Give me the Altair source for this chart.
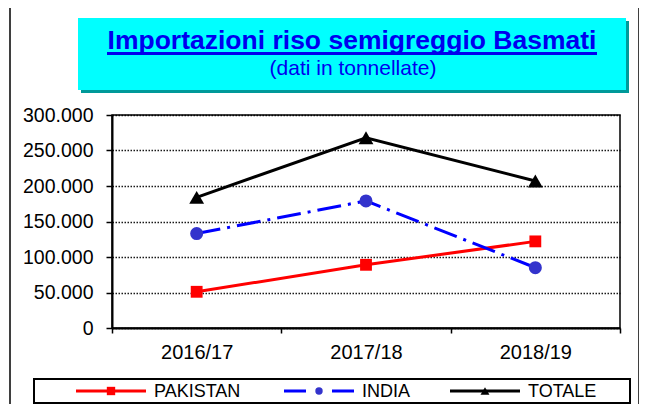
import altair as alt
import pandas as pd

# ---- data ----
years = ["2016/17", "2017/18", "2018/19"]
series_names = ["PAKISTAN", "INDIA", "TOTALE"]
pakistan = [51000, 89000, 122000]
india = [133000, 179000, 85000]
totale = [184000, 268000, 207000]
y_ticks = [0, 50000, 100000, 150000, 200000, 250000, 300000]
title_text = "Importazioni riso semigreggio Basmati"
subtitle_text = "(dati in tonnellate)"

rows = []
for name, vals in zip(series_names, [pakistan, india, totale]):
    for yr, v in zip(years, vals):
        rows.append({"anno": yr, "serie": name, "valore": v})
df = pd.DataFrame(rows)

FONT = "Liberation Sans"
W, H = 508, 213

styles = {
    "PAKISTAN": dict(color="#FF0000", mcolor="#FF0000", dash=None, shape="square", size=140, lsize=70, ldash=None),
    "INDIA": dict(color="#0000FF", mcolor="#3333CC", dash=[24, 7, 3, 7], shape="circle", size=170, lsize=55, ldash=[22, 26]),
    "TOTALE": dict(color="#000000", mcolor="#000000", dash=None, shape="triangle-up", size=220, lsize=80, ldash=None),
}

one = pd.DataFrame({"k": [0]})


def deco_rect(x, x2, y, y2, **kw):
    return alt.Chart(one).mark_rect(**kw).encode(
        x=alt.value(x), x2=alt.value(x2), y=alt.value(y), y2=alt.value(y2))


def deco_rule(x, x2, y, **kw):
    return alt.Chart(one).mark_rule(**kw).encode(
        x=alt.value(x), x2=alt.value(x2), y=alt.value(y))


def deco_text(x, y, txt, **kw):
    return alt.Chart(one).mark_text(text=txt, **kw).encode(x=alt.value(x), y=alt.value(y))


def deco_point(x, y, **kw):
    return alt.Chart(one).mark_point(**kw).encode(x=alt.value(x), y=alt.value(y))


# ---- axes / scales ----
x_enc = alt.X("anno:N", sort=years,
              scale=alt.Scale(type="band", paddingInner=0, paddingOuter=0),
              axis=alt.Axis(title=None, labelAngle=0, tickBand="extent", grid=False,
                            labelFont=FONT, labelFontSize=20, labelColor="black",
                            labelPadding=9, tickSize=5, tickColor="black", tickWidth=1.5,
                            domainColor="black", domainWidth=2))
y_enc = alt.Y("valore:Q",
              scale=alt.Scale(domain=[0, 300000], nice=False),
              axis=alt.Axis(title=None, values=y_ticks,
                            labelExpr="replace(format(datum.value, ','), ',', '.')",
                            labelFont=FONT, labelFontSize=19.5, labelColor="black",
                            labelPadding=13, tickSize=6, tickColor="black", tickWidth=1.5,
                            domainColor="black", domainWidth=2,
                            grid=True, gridColor="black", gridDash=[1.5, 1.5], gridWidth=1.5,
                            gridOpacity=0.9))

layers = []

# outer frame
layers.append(deco_rect(-102, 527, -109, 320, fill=None, filled=False, stroke="black", strokeWidth=1.5))
# title box with shadow
layers.append(deco_rect(-31, 517, -94, -22, color="#009999"))
layers.append(deco_rect(-34, 514, -97, -25, color="#00FFFF"))
layers.append(deco_text(240, -66, title_text, font=FONT, fontSize=26.5, fontWeight="bold",
                        color="#0000EE", align="center", baseline="alphabetic"))
layers.append(deco_rule(-5, 485, -61.5, color="#0000EE", strokeWidth=3))
layers.append(deco_text(241, -40, subtitle_text, font=FONT, fontSize=21,
                        color="#0000EE", align="center", baseline="alphabetic"))

# legend box
layers.append(deco_rect(-78, 518, 264, 288, fill="white", stroke="black", strokeWidth=2))
leg_start = [-36, 172, 338]
for i, name in enumerate(series_names):
    st = styles[name]
    x0 = leg_start[i]
    rkw = dict(color=st["color"], strokeWidth=3)
    if st["ldash"]:
        rkw["strokeDash"] = st["ldash"]
    layers.append(deco_rule(x0, x0 + 70, 276, **rkw))
    layers.append(deco_point(x0 + 35, 276, shape=st["shape"], filled=True, size=st["lsize"],
                             color=st["mcolor"], opacity=1))
    layers.append(deco_text(x0 + 78, 277, name, font=FONT, fontSize=18, color="black",
                            align="left", baseline="middle"))

# data series
base = alt.Chart(df)
for name in series_names:
    st = styles[name]
    lkw = dict(color=st["color"], strokeWidth=3)
    if st["dash"]:
        lkw["strokeDash"] = st["dash"]
    layers.append(base.transform_filter(alt.datum.serie == name)
                  .mark_line(**lkw).encode(x=x_enc, y=y_enc))
for name in series_names:
    st = styles[name]
    layers.append(base.transform_filter(alt.datum.serie == name)
                  .mark_point(shape=st["shape"], filled=True, size=st["size"],
                              color=st["mcolor"], opacity=1)
                  .encode(x=x_enc, y=y_enc))

chart = alt.layer(*layers).properties(
    width=W, height=H,
    padding={"left": 104, "top": 107, "right": 19, "bottom": 76},
    autosize=alt.AutoSizeParams(type="none"),
    background="white",
).configure_view(stroke="black", strokeWidth=1.5)

chart.save("out.html", embed_options={"renderer": "svg", "actions": False})
